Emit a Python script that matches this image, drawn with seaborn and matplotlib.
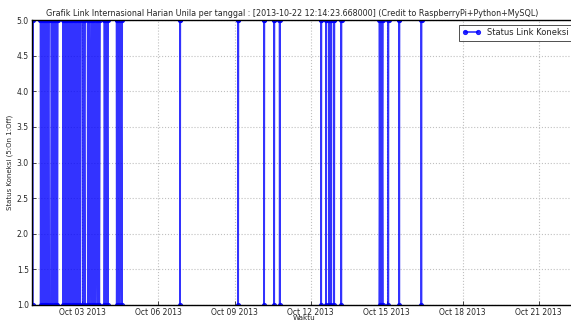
import pandas as pd
import matplotlib
matplotlib.use("Agg")
import matplotlib.pyplot as plt
import matplotlib.dates as mdates
import seaborn as sns

# jam sejak 2013-10-01 00:00 dan status link (5 = On, 1 = Off)
mulai = "2013-10-01 00:00:00"
jam = [
    0.0, 0.8, 1.4,
    8.3, 8.5, 9.2, 9.9, 10.6, 11.2, 11.7,
    12.3, 12.9, 13.5, 13.9,
    14.6, 14.8, 15.4, 16.1, 16.5,
    18.4, 18.6, 19.3, 20.2, 20.6,
    21.6, 21.8, 22.5, 23.1, 23.7, 24.3, 24.7,
    29.5, 29.7, 30.4, 31.1, 31.8,
    32.6, 32.8, 33.5, 34.2, 34.9, 35.6, 36.0,
    37.3, 37.5, 38.2, 38.9, 39.6, 40.3, 41.0, 41.7, 42.4, 43.1, 43.9,
    44.5, 45.2, 46.0, 46.7,
    48.4, 48.6, 49.4, 50.2, 50.6,
    52.9, 53.1, 53.8, 54.5, 55.2,
    56.2, 56.9, 57.7, 58.4,
    59.3, 60.0, 60.8, 61.6,
    62.5, 63.2, 64.0, 64.7,
    68.6, 68.8, 69.6, 70.4, 71.2, 72.0, 72.4,
    80.3, 80.5, 81.2, 82.0, 82.8, 83.6, 84.4, 85.3, 85.7,
    140.3, 140.5, 140.7,
    195.3, 195.5, 195.7,
    219.9, 220.1, 220.3,
    229.4, 229.6, 229.8,
    234.6, 234.8, 235.0,
    273.9, 274.1, 274.3,
    278.6, 278.8, 279.0,
    281.5, 281.7, 281.9,
    283.4, 283.6, 283.8,
    286.2, 286.4, 286.6,
    292.9, 293.1, 293.3,
    329.1, 329.3, 330.0, 330.7, 331.4, 332.2, 332.5,
    337.4, 337.6, 337.8,
    347.8, 348.0, 348.2,
    368.7, 368.9, 369.1,
    516.24,
]
status = [
    5, 1, 5,
    5, 1, 5, 1, 5, 1, 5,
    1, 5, 1, 5,
    5, 1, 5, 1, 5,
    5, 1, 5, 1, 5,
    5, 1, 5, 1, 5, 1, 5,
    5, 1, 5, 1, 5,
    5, 1, 5, 1, 5, 1, 5,
    5, 1, 5, 1, 5, 1, 5, 1, 5, 1, 5,
    1, 5, 1, 5,
    5, 1, 5, 1, 5,
    5, 1, 5, 1, 5,
    1, 5, 1, 5,
    1, 5, 1, 5,
    1, 5, 1, 5,
    5, 1, 5, 1, 5, 1, 5,
    5, 1, 5, 1, 5, 1, 5, 1, 5,
    5, 1, 5,
    5, 1, 5,
    5, 1, 5,
    5, 1, 5,
    5, 1, 5,
    5, 1, 5,
    5, 1, 5,
    5, 1, 5,
    5, 1, 5,
    5, 1, 5,
    5, 1, 5,
    5, 1, 5, 1, 5, 1, 5,
    5, 1, 5,
    5, 1, 5,
    5, 1, 5,
    5,
]

judul = ("Grafik Link Internasional Harian Unila per tanggal : "
         "[2013-10-22 12:14:23.668000] (Credit to RaspberryPi+Python+MySQL)")

df = pd.DataFrame({
    "Waktu": pd.Timestamp(mulai) + pd.to_timedelta(jam, unit="h"),
    "Status": status,
})

sns.set_style("ticks")
plt.rcParams["font.family"] = ["DejaVu Sans"]

fig = plt.figure(figsize=(5.71, 3.22), dpi=100)
ax = fig.add_axes([0.0555, 0.0528, 0.955, 0.885])

sns.lineplot(data=df, x="Waktu", y="Status", estimator=None, sort=False,
             color="blue", linewidth=1.2, alpha=0.8,
             marker="o", markersize=3, markeredgecolor="blue",
             label="Status Link Koneksi", ax=ax)

ax.set_xlim(df["Waktu"].iloc[0], df["Waktu"].iloc[-1])
ax.set_ylim(1.0, 5.0)
ax.set_yticks([1.0, 1.5, 2.0, 2.5, 3.0, 3.5, 4.0, 4.5, 5.0])
ax.yaxis.set_major_formatter(matplotlib.ticker.FormatStrFormatter("%.1f"))
ax.xaxis.set_major_locator(mdates.DayLocator(bymonthday=[3, 6, 9, 12, 15, 18, 21, 24, 27, 30]))
ax.xaxis.set_major_formatter(mdates.DateFormatter("%b %d %Y"))

ax.grid(True, linestyle=":", color="#c0c0c0", linewidth=0.8)
ax.tick_params(labelsize=5.5, direction="in", length=3, width=0.6, pad=2)
for s in ax.spines.values():
    s.set_color("black")
    s.set_linewidth(1.0)

ax.set_title(judul, fontsize=5.8, pad=3, x=0.478)
ax.set_xlabel("Waktu", fontsize=5.2, labelpad=-1)
ax.set_ylabel("Status Koneksi (5:On 1:Off)", fontsize=5, labelpad=3)

leg = ax.legend(loc="upper right", fontsize=6, numpoints=2, fancybox=False,
                borderaxespad=0.6, handlelength=2.2)
leg.get_frame().set_edgecolor("black")
leg.get_frame().set_linewidth(0.6)

fig.savefig("out.png", dpi=100)
